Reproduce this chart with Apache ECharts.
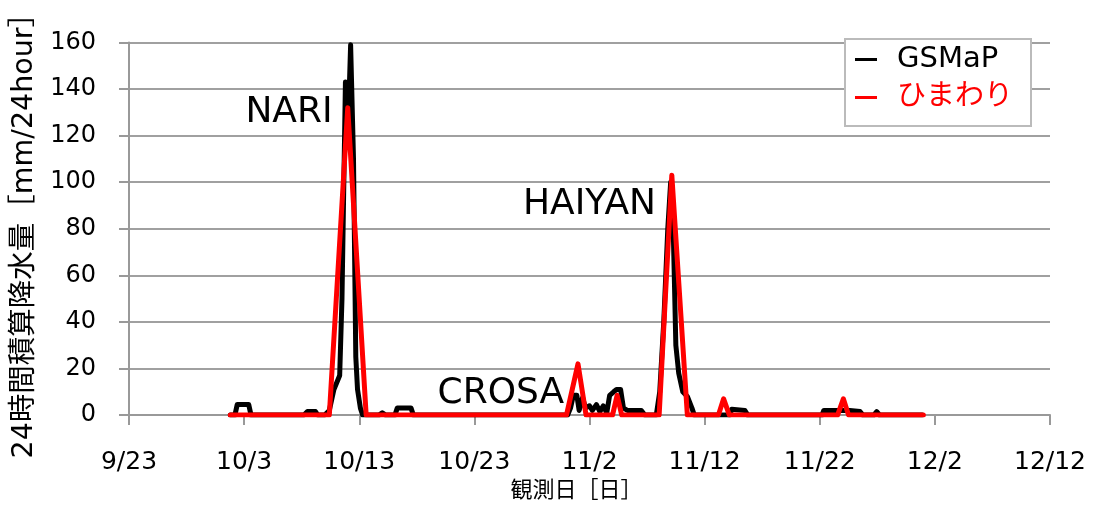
<!DOCTYPE html>
<html>
<head>
<meta charset="utf-8">
<script src="https://cdn.jsdelivr.net/npm/echarts@6/dist/echarts.min.js"></script>
<style>
html,body{margin:0;padding:0;background:#fff;}
#chart{width:1095px;height:507px;}
</style>
</head>
<body>
<div id="chart"></div>
<script>
// x values are days after 9/23
const xTickLabels = ['9/23','10/3','10/13','10/23','11/2','11/12','11/22','12/2','12/12'];
const seriesNames = ['GSMaP', 'ひまわり'];
const gsmapDays = [8.8, 9.2, 9.4, 10.4, 10.6, 15.2, 15.5, 16.2, 16.4, 17.0, 17.4, 17.8, 18.3, 18.5, 18.8, 19.0, 19.25, 19.5, 19.7, 19.85, 20.1, 20.3, 21.7, 22.0, 22.3, 23.1, 23.3, 24.5, 24.7, 38.1, 38.35, 38.6, 38.9, 39.1, 39.4, 39.65, 40.0, 40.25, 40.6, 40.9, 41.2, 41.5, 41.75, 42.1, 42.35, 42.7, 42.95, 43.3, 44.5, 44.8, 45.8, 46.1, 46.45, 46.8, 47.05, 47.25, 47.5, 47.75, 48.1, 48.5, 48.9, 49.1, 52.2, 52.35, 53.5, 53.75, 60.2, 60.35, 61.6, 62.6, 63.5, 63.75, 64.7, 64.95, 65.2, 68.9];
const gsmapValues = [0, 0, 4.5, 4.5, 0, 0, 1.5, 1.5, 0, 0, 2, 11, 17, 50, 143, 118, 159, 110, 25, 11, 3, 0, 0, 1, 0, 0, 3, 3, 0, 0, 3, 8.5, 8.5, 2, 7.5, 3, 4, 2, 4.5, 1.5, 4, 1, 8.5, 10, 11, 11, 3, 2, 2, 0, 0, 10, 40, 80, 100, 85, 30, 18, 10, 8, 3, 0, 0, 2.5, 2, 0, 0, 2, 2, 2, 1.5, 0, 0, 1.5, 0, 0];
const himawariDays = [8.8, 17.4, 19.0, 20.6, 38.0, 39.0, 39.7, 42.0, 42.4, 42.8, 46.05, 47.15, 48.5, 51.2, 51.65, 52.15, 61.55, 62.05, 62.5, 69.0];
const himawariValues = [0, 0, 132, 0, 0, 22, 0, 0, 8.5, 0, 0, 103, 0, 0, 7, 0, 0, 7, 0, 0];
const typhoonNames = ['NARI', 'HAIYAN', 'CROSA'];

const gsmapData = gsmapDays.map((d, i) => [d, gsmapValues[i]]);
const himawariData = himawariDays.map((d, i) => [d, himawariValues[i]]);

const FONT = "'DejaVu Sans', 'Noto Sans CJK JP', sans-serif";
const chart = echarts.init(document.getElementById('chart'), null, {renderer: 'canvas'});
chart.setOption({
  backgroundColor: '#fff',
  animation: false,
  textStyle: {fontFamily: FONT},
  grid: {left: 129, width: 921, top: 29, height: 394, containLabel: false},
  legend: {
    orient: 'vertical',
    left: 845, top: 39,
    padding: [6, 18, 14, 10],
    itemGap: 9,
    itemWidth: 22, itemHeight: 3,
    borderColor: '#bbb', borderWidth: 2,
    backgroundColor: '#fff',
    textStyle: {fontSize: 29, fontFamily: FONT, padding: [0, 0, 0, 15]},
    data: [
      {name: seriesNames[0], icon: 'rect', textStyle: {color: '#000'}},
      {name: seriesNames[1], icon: 'rect', textStyle: {color: '#ff0000'}}
    ]
  },
  xAxis: {
    type: 'value', min: 0, max: 80, interval: 10,
    name: '観測日［日］', nameLocation: 'middle', nameGap: 60,
    nameTextStyle: {fontSize: 22, color: '#000', fontFamily: FONT, padding: [0, 26, 0, 0]},
    axisLine: {show: true, lineStyle: {color: '#999', width: 2}},
    axisTick: {show: true, length: 10, lineStyle: {color: '#999', width: 2}},
    axisLabel: {fontSize: 25, color: '#000', margin: 35, fontFamily: FONT,
      formatter: v => xTickLabels[Math.round(v / 10)] || ''},
    splitLine: {show: false}
  },
  yAxis: {
    type: 'value', min: 0, max: 160, interval: 20,
    name: '24時間積算降水量［mm/24hour］', nameLocation: 'middle', nameGap: 88,
    nameTextStyle: {fontSize: 28.5, color: '#000', fontFamily: FONT},
    axisLine: {show: true, lineStyle: {color: '#999', width: 2}},
    axisTick: {show: true, length: 10, lineStyle: {color: '#999', width: 2}},
    axisLabel: {fontSize: 24, color: '#000', margin: 33, fontFamily: FONT},
    splitLine: {show: true, lineStyle: {color: '#a0a0a0', width: 2}}
  },
  series: [
    {
      name: seriesNames[0], type: 'line', data: gsmapData,
      showSymbol: false, symbol: 'none',
      lineStyle: {color: '#000', width: 5, join: 'round', cap: 'round'},
      itemStyle: {color: '#000'},
      z: 2
    },
    {
      name: seriesNames[1], type: 'line', data: himawariData,
      showSymbol: false, symbol: 'none',
      lineStyle: {color: '#ff0000', width: 5, join: 'round', cap: 'round'},
      itemStyle: {color: '#ff0000'},
      z: 3,
      markPoint: {
        symbol: 'rect', symbolSize: 1,
        itemStyle: {color: 'rgba(0,0,0,0)'},
        label: {show: true, position: 'inside', formatter: '{b}', color: '#000', fontSize: 36, fontFamily: FONT},
        data: [
          {name: typhoonNames[0], coord: [13.9, 130]},
          {name: typhoonNames[1], coord: [40.0, 90.5]},
          {name: typhoonNames[2], coord: [32.3, 9]}
        ]
      }
    }
  ]
});
</script>
</body>
</html>
